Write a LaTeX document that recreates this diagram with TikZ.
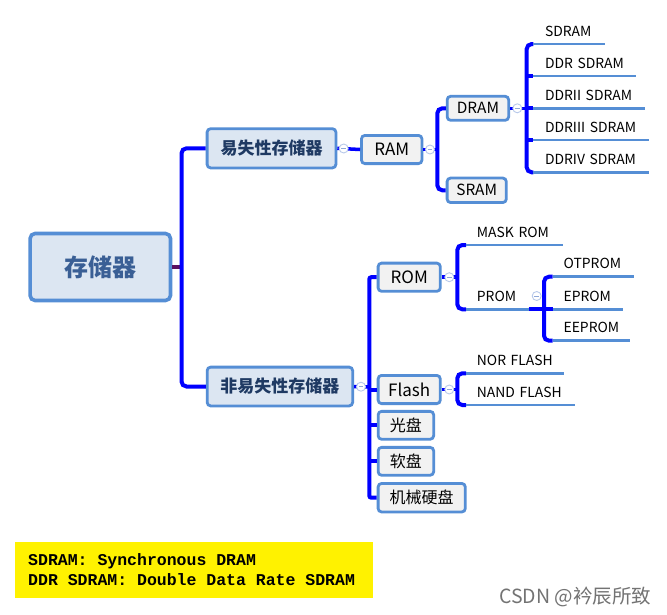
\documentclass[tikz,border=0pt]{standalone}
\usepackage{fontspec}
\setmainfont{Noto Sans CJK SC}
\newfontface\monobold{Liberation Mono Bold}
\usetikzlibrary{calc}
\definecolor{bord}{HTML}{558ED5}
\definecolor{rootfill}{HTML}{DCE6F2}
\definecolor{boxfill}{HTML}{F2F2F2}
\definecolor{roottext}{HTML}{3A5F95}
\definecolor{lvtext}{HTML}{1F3A63}
\definecolor{brblue}{HTML}{0000FF}
\definecolor{uline}{HTML}{558ED5}
\definecolor{stub}{HTML}{5A1060}
\definecolor{knobc}{HTML}{B8C9EA}
\definecolor{knobm}{HTML}{8FA8D8}
\begin{document}
\begin{tikzpicture}[x=1pt,y=-1pt,
  rootbox/.style={draw=bord,line width=3.6pt,fill=rootfill,rounded corners=5pt,
    text=roottext,font=\fontsize{24}{28}\selectfont\bfseries,inner sep=0pt},
  lvbox/.style={draw=bord,line width=2.8pt,fill=rootfill,rounded corners=3.5pt,
    text=lvtext,font=\fontsize{17}{20}\selectfont\bfseries,inner sep=0pt},
  gbox/.style={draw=bord,line width=2.8pt,fill=boxfill,rounded corners=3.5pt,
    text=black,font=\fontsize{17}{20}\selectfont,inner sep=0pt},
  sbox/.style={gbox,font=\fontsize{15.4}{18}\selectfont},
  leaf/.style={anchor=south west,inner sep=0pt,text height=10pt,text depth=7.6pt,
    align=left,font=\fontsize{13.9}{16}\selectfont},
  ul/.style={draw=uline,line width=2.8pt},
  br/.style={draw=brblue,line width=4pt,rounded corners=5pt},
  brs/.style={draw=brblue,line width=3.5pt},
  knob/.style={circle,draw=knobc,fill=white,line width=0.9pt,minimum size=9pt,inner sep=0pt,
    path picture={\draw[knobm,line width=0.9pt] ([xshift=-2.4pt]path picture bounding box.center) -- ([xshift=2.4pt]path picture bounding box.center);}},
  notebox/.style={fill=yellow,minimum width=358.3pt,minimum height=56pt,inner xsep=13pt,inner ysep=0pt,
    text width=332pt,align=left,font=\monobold\fontsize{16.5}{20.7}\selectfont}
]
\fill[white] (0,0) rectangle (667,614);
\useasboundingbox (0,0) rectangle (667,614);

% boxes
\node[rootbox,minimum width=140.4pt,minimum height=67pt] (root) at (100.3,267) {存储器};
\node[lvbox,minimum width=128.8pt,minimum height=39.2pt] (vol) at (271.5,148.3) {易失性存储器};
\node[lvbox,minimum width=145.5pt,minimum height=38.8pt] (nonvol) at (279.9,386.5) {非易失性存储器};
\node[gbox,minimum width=60.5pt,minimum height=28.2pt] (ram) at (391.7,149.5) {RAM};
\node[sbox,minimum width=61.5pt,minimum height=24pt] (dram) at (477.9,108.3) {DRAM};
\node[sbox,minimum width=59.2pt,minimum height=24.5pt] (sram) at (476.7,190.3) {SRAM};
\node[gbox,minimum width=62.2pt,minimum height=28.2pt] (rom) at (409.2,277.2) {ROM};
\node[gbox,minimum width=62.2pt,minimum height=28.2pt] (flash) at (409.2,389.5) {Flash};
\node[gbox,font=\fontsize{16}{19}\selectfont,minimum width=55.5pt,minimum height=27.9pt] (cd) at (405.9,425.3) {光盘};
\node[gbox,font=\fontsize{16}{19}\selectfont,minimum width=55.5pt,minimum height=27.9pt] (floppy) at (405.9,461.3) {软盘};
\node[gbox,font=\fontsize{16}{19}\selectfont,minimum width=87.2pt,minimum height=28.5pt] (hdd) at (421.7,497.7) {机械硬盘};

% leaves
\node[leaf,minimum width=71pt,text width=71pt] (sdram) at (533.3,44) {\hspace*{11.5pt}SDRAM};
\node[leaf,minimum width=102.7pt,text width=102.7pt] (ddr) at (533.3,76) {\hspace*{11.5pt}DDR SDRAM};
\node[leaf,minimum width=111pt,text width=111pt] (ddrii) at (533.3,108.3) {\hspace*{11.5pt}DDRII SDRAM};
\node[leaf,minimum width=115pt,text width=115pt] (ddriii) at (533.3,140) {\hspace*{11.5pt}DDRIII SDRAM};
\node[leaf,minimum width=115.7pt,text width=115.7pt] (ddriv) at (533.3,172.3) {\hspace*{11.5pt}DDRIV SDRAM};
\node[leaf,minimum width=96.3pt,text width=96.3pt] (mask) at (466,245) {\hspace*{10.7pt}MASK ROM};
\node[leaf,minimum width=62.3pt,text width=62.3pt] (prom) at (466,309.3) {\hspace*{10.7pt}PROM};
\node[leaf,minimum width=80.6pt,text width=80.6pt] (otprom) at (552.7,276.7) {\hspace*{10.7pt}OTPROM};
\node[leaf,minimum width=70pt,text width=70pt] (eprom) at (552.7,309.3) {\hspace*{10.7pt}EPROM};
\node[leaf,minimum width=76.6pt,text width=76.6pt] (eeprom) at (552.7,340.7) {\hspace*{10.7pt}EEPROM};
\node[leaf,minimum width=98pt,text width=98pt] (nor) at (466,373.3) {\hspace*{10.7pt}NOR FLASH};
\node[leaf,minimum width=109pt,text width=109pt] (nand) at (466,405) {\hspace*{10.7pt}NAND FLASH};

% bracket points
\coordinate (rootV) at (181.5,267);
\coordinate (ramV) at (437.3,149.5);
\coordinate (dramV) at (526.7,108.3);
\coordinate (nvV) at (369.3,387);
\coordinate (romV) at (457.3,277.2);
\coordinate (promV) at (544,309.3);
\coordinate (flashV) at (457.3,389.5);

% connectors
\draw[stub,line width=4pt] (root.east) -- (rootV);
\draw[br] (vol.west) -| (rootV) |- (nonvol.west);
\draw[brs] (vol.east) -- (ram.west);
\draw[brs] (ram.east) -- (ramV);
\draw[br] (dram.west) -| (ramV) |- (sram.west);
\draw[brs] (dram.east) -- (dramV);
\draw[br] (sdram.south west) -| (dramV) |- (ddriv.south west);
\draw[br] (dramV |- ddr.south west) -- (ddr.south west);
\draw[br] (dramV |- ddrii.south west) -- (ddrii.south west);
\draw[br] (dramV |- ddriii.south west) -- (ddriii.south west);
\draw[brs] (nonvol.east) -- (nvV);
\draw[br,rounded corners=2pt] (rom.west) -| (nvV) |- (hdd.west);
\draw[br] (nvV |- flash.west) -- (flash.west);
\draw[br] (nvV |- cd.west) -- (cd.west);
\draw[br] (nvV |- floppy.west) -- (floppy.west);
\draw[brs] (rom.east) -- (romV);
\draw[br] (mask.south west) -| (romV) |- (prom.south west);
\draw[br] (prom.south east) -- (promV);
\draw[br] (otprom.south west) -| (promV) |- (eeprom.south west);
\draw[br] (promV) -- (eprom.south west);
\draw[brs] (flash.east) -- (flashV);
\draw[br] (nor.south west) -| (flashV) |- (nand.south west);

% underlines
\foreach \n in {sdram,ddr,ddrii,ddriii,ddriv,mask,prom,otprom,eprom,eeprom,nor,nand}
  \draw[ul] (\n.south west) -- (\n.south east);

% knobs
\node[knob] (k1) at (343.7,148.5) {};
\node[knob] (k2) at (430,149.5) {};
\node[knob] (k3) at (517.3,108.3) {};
\node[knob] (k4) at (361,386.7) {};
\node[knob] (k5) at (449.3,277.2) {};
\node[knob] (k6) at (536.7,296) {};
\node[knob] (k7) at (449.3,389.5) {};

% note
\node[notebox] (note) at (194.2,569.7) {\spaceskip=0.6em plus 0pt minus 0pt\relax
SDRAM: Synchronous DRAM\\DDR SDRAM: Double Data Rate SDRAM};

% watermark
\node[anchor=west,inner sep=0pt,text=black!55,font=\fontsize{19.5}{22}\selectfont] (wm) at (499,596.5) {CSDN @衿辰所致};
\end{tikzpicture}
\end{document}
